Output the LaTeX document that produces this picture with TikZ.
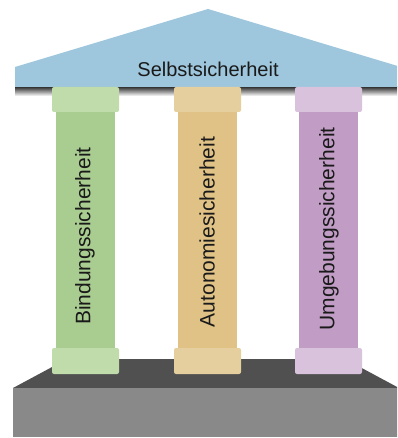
\documentclass[tikz,border=0pt]{standalone}
\usepackage{fontspec}
\setmainfont{Liberation Sans}
\definecolor{roof}{RGB}{158,198,220}
\definecolor{gcap}{RGB}{192,220,170}
\definecolor{gsh}{RGB}{169,205,144}
\definecolor{ocap}{RGB}{230,207,158}
\definecolor{osh}{RGB}{224,194,134}
\definecolor{pcap}{RGB}{216,194,220}
\definecolor{psh}{RGB}{193,157,198}
\definecolor{ptop}{RGB}{80,80,80}
\definecolor{pfront}{RGB}{137,137,137}
\definecolor{txt}{RGB}{26,26,26}
\tikzset{
  capbox/.style={rounded corners=2pt},
  lbl/.style={text=txt, font=\fontsize{20}{24}\selectfont, inner sep=0pt},
  plbl/.style={text=txt, font=\fontsize{21}{24}\selectfont, inner sep=0pt, rotate=90},
}
\begin{document}
\begin{tikzpicture}[x=1pt,y=-1pt]
\useasboundingbox (0,0) rectangle (397,438);
\clip (0,0) rectangle (397,438);
% platform
\fill[ptop] (13,388) -- (67,359) -- (345,359) -- (399,388) -- cycle;
\fill[pfront] (13,388) rectangle (399,437);
% roof shadow
\shade[top color=black!80, bottom color=white] (15,87) rectangle (399,96);
% roof
\fill[roof] (15,87) -- (15,67) -- (208,9) -- (401,67) -- (401,87) -- cycle;
\node[lbl] (title) at (208,69) {Selbstsicherheit};
% pillars
\foreach \x/\cap/\sh in {52/gcap/gsh, 174/ocap/osh, 295/pcap/psh}{
  \fill[\sh] (\x+4,110) rectangle (\x+63,350);
  \fill[\cap, capbox] (\x,87) rectangle (\x+67,112);
  \fill[\cap, capbox] (\x,348) rectangle (\x+67,374);
}
\node[plbl] (p1) at (85,236) {Bindungssicherheit};
\node[plbl] (p2) at (207,232) {Autonomiesicherheit};
\node[plbl] (p3) at (329,229) {Umgebungssicherheit};
\end{tikzpicture}
\end{document}
